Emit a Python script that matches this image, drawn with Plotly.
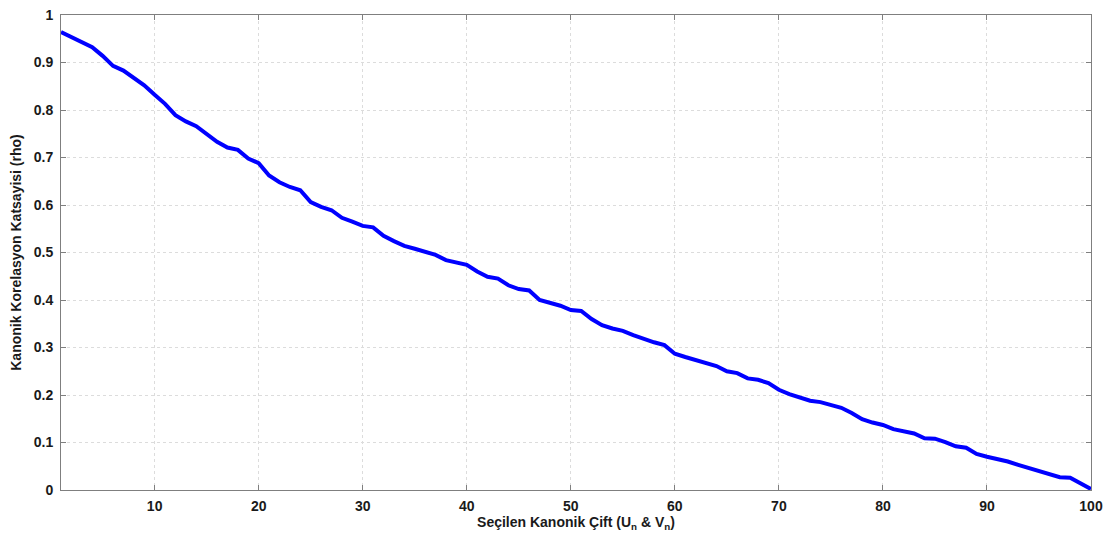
import plotly.graph_objects as go

pairs = list(range(1, 101))
rho = [0.964, 0.953, 0.941, 0.932, 0.914, 0.893, 0.883, 0.868, 0.852, 0.832,
       0.813, 0.789, 0.776, 0.766, 0.749, 0.733, 0.721, 0.716, 0.698, 0.688,
       0.662, 0.648, 0.638, 0.631, 0.606, 0.596, 0.589, 0.573, 0.565, 0.556,
       0.553, 0.535, 0.524, 0.514, 0.508, 0.502, 0.495, 0.484, 0.478, 0.474,
       0.460, 0.449, 0.445, 0.431, 0.423, 0.420, 0.400, 0.395, 0.388, 0.379,
       0.377, 0.360, 0.347, 0.340, 0.335, 0.326, 0.318, 0.311, 0.305, 0.287,
       0.280, 0.274, 0.267, 0.261, 0.250, 0.246, 0.235, 0.232, 0.225, 0.211,
       0.202, 0.196, 0.188, 0.185, 0.179, 0.173, 0.162, 0.149, 0.142, 0.137,
       0.128, 0.123, 0.119, 0.109, 0.108, 0.101, 0.092, 0.089, 0.076, 0.070,
       0.066, 0.060, 0.053, 0.046, 0.040, 0.033, 0.027, 0.026, 0.014, 0.002]

x_ticks = [10, 20, 30, 40, 50, 60, 70, 80, 90, 100]
y_ticks = [0, 0.1, 0.2, 0.3, 0.4, 0.5, 0.6, 0.7, 0.8, 0.9, 1]
y_labels = ["0", "0.1", "0.2", "0.3", "0.4", "0.5", "0.6", "0.7", "0.8", "0.9", "1"]

font_family = "Liberation Sans, Arial, sans-serif"
bold_font = dict(family=font_family, size=14, color="#1a1a1a", weight="bold")

fig = go.Figure()
fig.add_trace(go.Scatter(x=pairs, y=rho, mode="lines",
                         line=dict(color="#0000ff", width=4), showlegend=False))

axis_common = dict(
    showline=True, linecolor="#7f7f7f", linewidth=1, mirror="ticks",
    ticks="inside", ticklen=5, tickcolor="#7f7f7f",
    showgrid=True, gridcolor="#dcdcdc", griddash="dot", gridwidth=1,
    zeroline=False, automargin=False, ticklabeloverflow="allow",
    tickfont=bold_font,
)

# page body has an 8px default margin; size the figure to fit the window
fig.update_layout(
    width=1105, height=534,
    margin=dict(l=53, r=22, t=7, b=52),
    plot_bgcolor="white", paper_bgcolor="white",
    font=dict(family=font_family, color="#1a1a1a"),
    xaxis=dict(range=[1, 100], tickvals=x_ticks, ticklabelstandoff=3,
               title=dict(text="Seçilen Kanonik Çift (U<sub>n</sub> & V<sub>n</sub>)",
                          font=bold_font, standoff=4),
               **axis_common),
    yaxis=dict(range=[0, 1], tickvals=y_ticks, ticktext=y_labels, ticklabelstandoff=4,
               title=dict(text="Kanonik Korelasyon Katsayisi (rho)",
                          font=bold_font, standoff=8),
               **axis_common),
)

fig.write_html("out.html")
